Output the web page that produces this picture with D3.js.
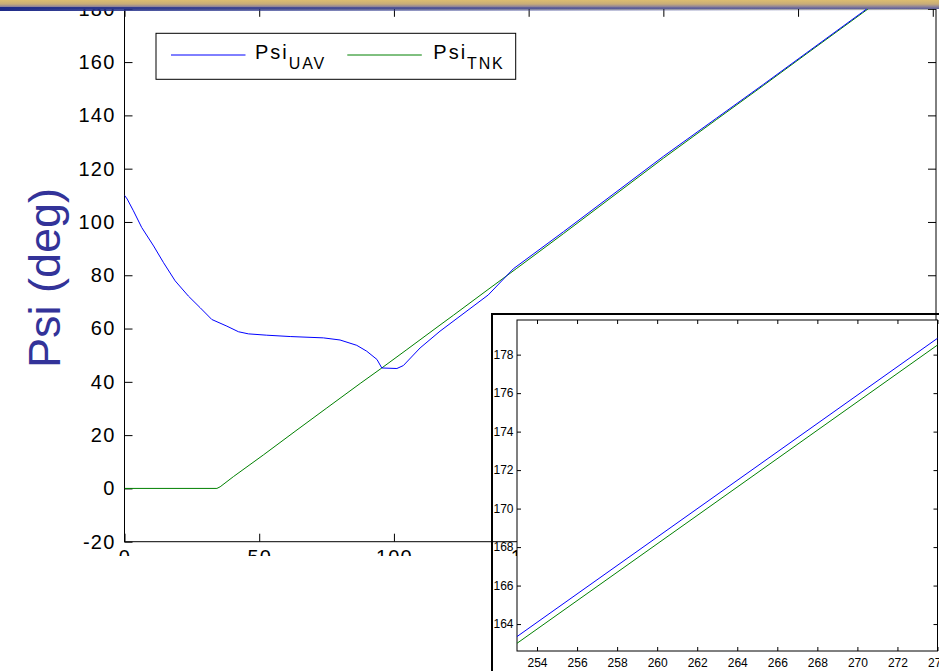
<!DOCTYPE html>
<html><head><meta charset="utf-8">
<script src="https://cdn.jsdelivr.net/npm/d3@7"></script>
<style>
body{margin:0;background:#fff;}
svg{display:block;font-family:Arial,"Liberation Sans",sans-serif;}
</style>
</head><body>
<svg id="c" width="939" height="671"></svg>
<script>
// ---- data ----
const seriesNames = ["UAV", "TNK"];
const uavT   = [0, 1, 3.3, 6.4, 10.8, 14.5, 18.8, 23.7, 28.1, 32.4, 38.0, 42.3, 46.0, 52.8, 61.5, 73.8, 80.0, 86.2, 89.9, 93.7, 95.5, 101.1, 103.5, 109.7, 117.1, 135.0, 144.3, 162.9, 180.2, 200.0, 219.8, 237.1, 253.0, 274.0, 277.0];
const uavPsi = [110.0, 108.6, 104.2, 97.9, 91.0, 84.7, 77.9, 72.2, 67.8, 63.4, 60.9, 58.8, 58.0, 57.5, 57.0, 56.5, 55.7, 53.7, 51.5, 48.4, 45.2, 45.0, 46.1, 52.7, 59.0, 72.6, 82.4, 96.3, 109.5, 124.6, 139.0, 151.6, 163.35, 178.85, 181.1];
const tnkT   = [0, 34.3, 35.5, 40.4, 51.6, 63.3, 75.1, 87.5, 95.5, 104.8, 117.1, 122.1, 133.8, 145.6, 162.9, 180.2, 200.0, 219.8, 237.1, 253.0, 274.0, 277.0];
const tnkPsi = [0, 0, 0.6, 4.4, 12.6, 21.4, 30.2, 39.4, 45.2, 52.1, 61.3, 65.0, 73.8, 82.6, 95.6, 108.8, 123.9, 138.5, 151.2, 163.0, 178.5, 180.7];
const mainXTicks  = [0, 50, 100, 150, 200, 250, 300];
const mainYTicks  = [-20, 0, 20, 40, 60, 80, 100, 120, 140, 160, 180];
const insetXTicks = [254, 256, 258, 260, 262, 264, 266, 268, 270, 272, 274];
const insetYTicks = [164, 166, 168, 170, 172, 174, 176, 178];
const yLabel = "Psi (deg)";

const colors = {UAV: "#0000ff", TNK: "#008000"};
const uav = uavT.map((t, i) => ({t, v: uavPsi[i]}));
const tnk = tnkT.map((t, i) => ({t, v: tnkPsi[i]}));
const fmt = d => String(d);

const svg = d3.select("#c");
const defs = svg.append("defs");

// ---- main axes ----
const M = {left: 124.5, right: 936, top: 8.8, bottom: 541.7};
const x = d3.scaleLinear().domain([0, 301.2]).range([M.left, M.right]);
const y = d3.scaleLinear().domain([-20, 180]).range([M.bottom, M.top]);

defs.append("clipPath").attr("id", "mainClip").append("rect")
  .attr("x", 0).attr("y", 0).attr("width", 939).attr("height", 556);
defs.append("clipPath").attr("id", "plotClip").append("rect")
  .attr("x", M.left).attr("y", M.top).attr("width", M.right - M.left).attr("height", M.bottom - M.top);

const main = svg.append("g").attr("clip-path", "url(#mainClip)");

const styleAxis = g => {
  g.selectAll("path.domain").remove();
  g.selectAll("line").attr("stroke", "#000").attr("stroke-width", 1);
};
const mainText = sel => sel.selectAll("text").attr("font-size", 20).attr("letter-spacing", "1.2px").attr("fill", "#000").attr("font-family", "Arial, 'Liberation Sans', sans-serif");

main.append("g").attr("transform", `translate(${M.left},0)`)
  .call(d3.axisLeft(y).tickValues(mainYTicks).tickFormat(fmt).tickSizeInner(-8).tickSizeOuter(0).tickPadding(9))
  .call(styleAxis).call(mainText);
main.append("g").attr("transform", `translate(${M.right},0)`)
  .call(d3.axisRight(y).tickValues(mainYTicks).tickSizeInner(-8).tickSizeOuter(0).tickFormat(""))
  .call(styleAxis);
main.append("g").attr("transform", `translate(0,${M.bottom})`)
  .call(d3.axisBottom(x).tickValues(mainXTicks).tickFormat(fmt).tickSizeInner(-8).tickSizeOuter(0).tickPadding(8.5))
  .call(styleAxis).call(mainText);
main.append("g").attr("transform", `translate(0,${M.top})`)
  .call(d3.axisTop(x).tickValues(mainXTicks).tickSizeInner(-8).tickSizeOuter(0).tickFormat(""))
  .call(styleAxis);

main.append("rect").attr("x", M.left).attr("y", M.top)
  .attr("width", M.right - M.left).attr("height", M.bottom - M.top)
  .attr("fill", "none").attr("stroke", "#000").attr("stroke-width", 1);

const lineMain = d3.line().x(d => x(d.t)).y(d => y(d.v));
const lines = main.append("g").attr("clip-path", "url(#plotClip)");
lines.append("path").datum(tnk).attr("d", lineMain).attr("fill", "none").attr("stroke", colors.TNK).attr("stroke-width", 1);
lines.append("path").datum(uav).attr("d", lineMain).attr("fill", "none").attr("stroke", colors.UAV).attr("stroke-width", 1);

// legend
const lg = main.append("g");
lg.append("rect").attr("x", 156).attr("y", 33.3).attr("width", 359.7).attr("height", 46)
  .attr("fill", "#fff").attr("stroke", "#000").attr("stroke-width", 1);
const legItems = [{name: seriesNames[0], lx: 171, tx: 255}, {name: seriesNames[1], lx: 347.3, tx: 433.3}];
legItems.forEach(it => {
  lg.append("line").attr("x1", it.lx).attr("x2", it.lx + 74.5).attr("y1", 55).attr("y2", 55)
    .attr("stroke", colors[it.name]).attr("stroke-width", 1);
  const t = lg.append("text").attr("x", it.tx).attr("y", 58.5).attr("font-size", 20).attr("letter-spacing", "2px").attr("fill", "#000");
  t.append("tspan").text("Psi");
  t.append("tspan").attr("dy", 10).attr("dx", 0).attr("font-size", 16).attr("letter-spacing", "1.8px").text(it.name);
});

// y label
svg.append("text").attr("transform", "translate(60,278) rotate(-90)")
  .attr("text-anchor", "middle").attr("font-size", 45).attr("fill", "#333399").text(yLabel);

// ---- header bar ----
const hg = defs.append("linearGradient").attr("id", "hdr").attr("x1", 0).attr("y1", 0).attr("x2", 0).attr("y2", 1);
hg.append("stop").attr("offset", "0%").attr("stop-color", "#dcbd70");
hg.append("stop").attr("offset", "45%").attr("stop-color", "#c8ac78");
hg.append("stop").attr("offset", "75%").attr("stop-color", "#8c829a");
hg.append("stop").attr("offset", "100%").attr("stop-color", "#5a5c98");
svg.append("rect").attr("x", 0).attr("y", 0).attr("width", 939).attr("height", 9).attr("fill", "url(#hdr)");
const hg2 = defs.append("linearGradient").attr("id", "hdr2").attr("x1", 0).attr("y1", 0).attr("x2", 1).attr("y2", 0);
hg2.append("stop").attr("offset", "0%").attr("stop-color", "#1e2a88").attr("stop-opacity", 1);
hg2.append("stop").attr("offset", "15%").attr("stop-color", "#28348c").attr("stop-opacity", 0.85);
hg2.append("stop").attr("offset", "100%").attr("stop-color", "#5a5c98").attr("stop-opacity", 0);
svg.append("rect").attr("x", 0).attr("y", 7).attr("width", 939).attr("height", 4).attr("fill", "url(#hdr2)");

// ---- inset ----
const I = {left: 517, right: 937.5, top: 320, bottom: 651};
const xi = d3.scaleLinear().domain([253, 274]).range([I.left, I.right]);
const yi = d3.scaleLinear().domain([162.6, 179.8]).range([I.bottom, I.top]);
defs.append("clipPath").attr("id", "insetClip").append("rect")
  .attr("x", I.left).attr("y", I.top).attr("width", I.right - I.left).attr("height", I.bottom - I.top);

const inset = svg.append("g");
inset.append("rect").attr("x", I.left).attr("y", I.top).attr("width", I.right - I.left).attr("height", I.bottom - I.top)
  .attr("fill", "#fff");
inset.append("rect").attr("x", 492).attr("y", 314).attr("width", 470).attr("height", 380)
  .attr("fill", "none").attr("stroke", "#000").attr("stroke-width", 2);

const insetText = sel => sel.selectAll("text").attr("font-size", 12).attr("fill", "#000").attr("font-family", "Arial, 'Liberation Sans', sans-serif");
inset.append("g").attr("transform", `translate(${I.left},0)`)
  .call(d3.axisLeft(yi).tickValues(insetYTicks).tickFormat(fmt).tickSizeInner(-4).tickSizeOuter(0).tickPadding(3.5))
  .call(styleAxis).call(insetText);
inset.append("g").attr("transform", `translate(${I.right},0)`)
  .call(d3.axisRight(yi).tickValues(insetYTicks).tickSizeInner(-4).tickSizeOuter(0).tickFormat(""))
  .call(styleAxis);
inset.append("g").attr("transform", `translate(0,${I.bottom})`)
  .call(d3.axisBottom(xi).tickValues(insetXTicks).tickFormat(fmt).tickSizeInner(-4).tickSizeOuter(0).tickPadding(7))
  .call(styleAxis).call(insetText);
inset.append("g").attr("transform", `translate(0,${I.top})`)
  .call(d3.axisTop(xi).tickValues(insetXTicks).tickSizeInner(-4).tickSizeOuter(0).tickFormat(""))
  .call(styleAxis);
inset.append("rect").attr("x", I.left).attr("y", I.top).attr("width", I.right - I.left).attr("height", I.bottom - I.top)
  .attr("fill", "none").attr("stroke", "#000").attr("stroke-width", 1);

const lineInset = d3.line().x(d => xi(d.t)).y(d => yi(d.v));
const il = inset.append("g").attr("clip-path", "url(#insetClip)");
il.append("path").datum(tnk).attr("d", lineInset).attr("fill", "none").attr("stroke", colors.TNK).attr("stroke-width", 1);
il.append("path").datum(uav).attr("d", lineInset).attr("fill", "none").attr("stroke", colors.UAV).attr("stroke-width", 1);
</script>
</body></html>
